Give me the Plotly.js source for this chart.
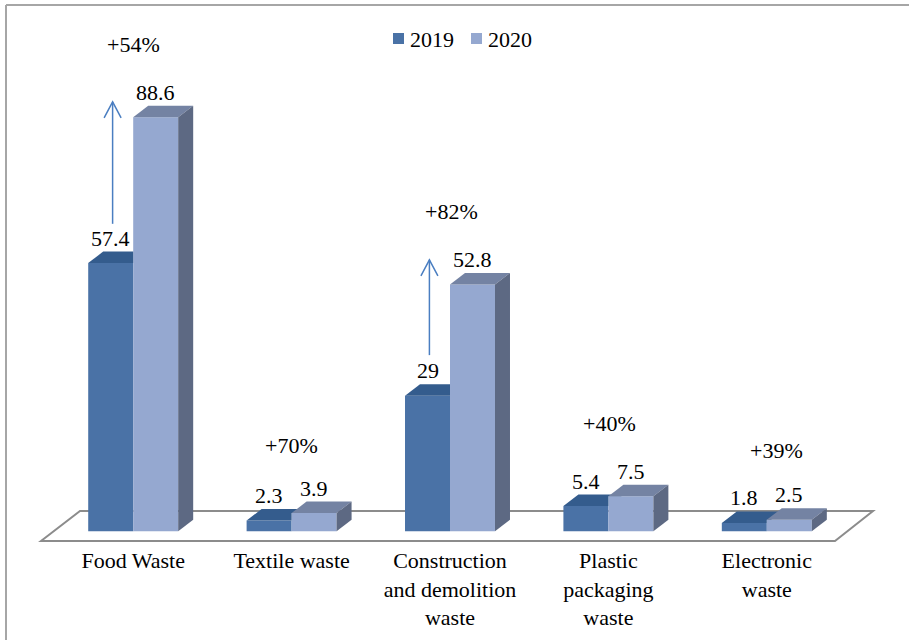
<!DOCTYPE html>
<html>
<head>
<meta charset="utf-8">
<script src="https://cdn.plot.ly/plotly-3.0.1.min.js"></script>
</head>
<body style="margin:0">
<div id="chart" style="width:909px;height:640px"></div>
<script>
// ---- data ----
const categories = ['Food Waste', 'Textile waste', 'Construction and demolition waste', 'Plastic packaging waste', 'Electronic waste'];
const tickLabels = ['Food Waste', 'Textile waste', 'Construction<br>and demolition<br>waste', 'Plastic<br>packaging<br>waste', 'Electronic<br>waste'];
const seriesNames = ['2019', '2020'];
const values2019 = [57.4, 2.3, 29, 5.4, 1.8];
const values2020 = [88.6, 3.9, 52.8, 7.5, 2.5];
const changeLabels = ['+54%', '+70%', '+82%', '+40%', '+39%'];

(function () {
  var SERIF = 'Times New Roman';
  var FSZ = 22;
  var COL19 = {front: '#4A72A6', top: '#345C8D'};
  var COL20 = {front: '#95A8D0', top: '#7483A3', side: '#5D6983'};
  var BARGAP = 0.432;
  var HALF = (1 - BARGAP) / 2;
  var DX = 0.0947;
  var DY = 2.46;
  var MARG = {l: 54, r: 63, t: 64, b: 90};
  var WIDTH = 909, HEIGHT = 640;
  var PW = WIDTH - MARG.l - MARG.r, PH = HEIGHT - MARG.t - MARG.b;
  function toPx(v) { return (v - MARG.l) / PW; }
  function toPy(v) { return (HEIGHT - MARG.b - v) / PH; }
  function txtFont() { return {family: SERIF, size: FSZ, color: '#000000'}; }

  var xIdx = categories.map(function (_, i) { return i; });

  var traces = [
    {type: 'bar', name: seriesNames[0], x: xIdx, y: values2019,
     marker: {color: COL19.front, line: {width: 0}}, hoverinfo: 'skip', showlegend: false},
    {type: 'bar', name: seriesNames[1], x: xIdx, y: values2020,
     marker: {color: COL20.front, line: {width: 0}}, hoverinfo: 'skip', showlegend: false}
  ];

  var shapes = [];
  shapes.push({type: 'line', xref: 'paper', yref: 'paper', x0: toPx(6), x1: toPx(909), y0: toPy(5), y1: toPy(5),
               line: {color: '#A6A6A6', width: 2}});
  shapes.push({type: 'line', xref: 'paper', yref: 'paper', x0: toPx(6), x1: toPx(6), y0: toPy(5), y1: toPy(640),
               line: {color: '#A6A6A6', width: 2}});
  shapes.push({type: 'path', xref: 'paper', yref: 'paper', layer: 'below',
    path: 'M' + toPx(41) + ',' + toPy(541) + ' L' + toPx(80) + ',' + toPy(511) + ' L' + toPx(873) + ',' + toPy(511) + ' L' + toPx(835) + ',' + toPy(541) + ' Z',
    fillcolor: '#FFFFFF', line: {color: '#8C8C8C', width: 2}});

  xIdx.forEach(function (i) {
    var a = i - HALF, m = i, b = i + HALF;
    var v1 = values2019[i], v2 = values2020[i];
    var p19;
    if (v1 + DY <= v2) {
      p19 = 'M' + a + ',' + v1 + ' L' + m + ',' + v1 + ' L' + m + ',' + (v1 + DY) + ' L' + (a + DX) + ',' + (v1 + DY) + ' Z';
    } else {
      p19 = 'M' + a + ',' + v1 + ' L' + m + ',' + v1 + ' L' + m + ',' + v2 + ' L' + (m + (v2 - v1) / DY * DX) + ',' + v2 +
            ' L' + (m + DX) + ',' + (v1 + DY) + ' L' + (a + DX) + ',' + (v1 + DY) + ' Z';
    }
    shapes.push({type: 'path', xref: 'x', yref: 'y', path: p19, fillcolor: COL19.top, line: {width: 0}});
    shapes.push({type: 'path', xref: 'x', yref: 'y',
      path: 'M' + m + ',' + v2 + ' L' + b + ',' + v2 + ' L' + (b + DX) + ',' + (v2 + DY) + ' L' + (m + DX) + ',' + (v2 + DY) + ' Z',
      fillcolor: COL20.top, line: {width: 0}});
    shapes.push({type: 'path', xref: 'x', yref: 'y',
      path: 'M' + b + ',0 L' + b + ',' + v2 + ' L' + (b + DX) + ',' + (v2 + DY) + ' L' + (b + DX) + ',' + DY + ' Z',
      fillcolor: COL20.side, line: {width: 0}});
  });

  var arrows = [{cat: 0, from: 65.8, to: 91.9}, {cat: 2, from: 37.7, to: 58.1}];
  var ARROW_COL = '#4A7EC1';
  arrows.forEach(function (ar) {
    var x = ar.cat - 0.13;
    shapes.push({type: 'line', xref: 'x', yref: 'y', x0: x, x1: x, y0: ar.from, y1: ar.to,
                 line: {color: ARROW_COL, width: 1.5}});
    shapes.push({type: 'path', xref: 'x', yref: 'y', xsizemode: 'pixel', ysizemode: 'pixel',
                 xanchor: x, yanchor: ar.to, path: 'M-8.5,-16 L0,0 L8.5,-16',
                 line: {color: ARROW_COL, width: 1.5}});
  });

  var legendSpec = [{sq: 393, tx: 408, col: COL19.front, name: seriesNames[0]},
                    {sq: 471, tx: 486, col: COL20.front, name: seriesNames[1]}];
  legendSpec.forEach(function (l) {
    shapes.push({type: 'rect', xref: 'paper', yref: 'paper', x0: toPx(l.sq), x1: toPx(l.sq + 11),
                 y0: toPy(44), y1: toPy(33), fillcolor: l.col, line: {width: 0}});
  });

  var annotations = [];
  xIdx.forEach(function (i) {
    annotations.push({xref: 'x', yref: 'y', x: i - HALF / 2, y: values2019[i] + DY, text: String(values2019[i]),
      showarrow: false, yanchor: 'bottom', yshift: -1, font: txtFont()});
    annotations.push({xref: 'x', yref: 'y', x: i + HALF / 2, y: values2020[i] + DY, text: String(values2020[i]),
      showarrow: false, yanchor: 'bottom', yshift: -1, font: txtFont()});
  });
  var changePos = [{dx: 0, y: 45}, {dx: 0, y: 445}, {dx: 0.01, y: 212}, {dx: 0.01, y: 423}, {dx: 0.06, y: 450}];
  changeLabels.forEach(function (t, i) {
    annotations.push({xref: 'x', yref: 'paper', x: i + changePos[i].dx, y: toPy(changePos[i].y), text: t,
      showarrow: false, yanchor: 'middle', font: txtFont()});
  });
  legendSpec.forEach(function (l) {
    annotations.push({xref: 'paper', yref: 'paper', x: toPx(l.tx), y: toPy(39), text: l.name, xanchor: 'left',
      yanchor: 'middle', showarrow: false, font: txtFont()});
  });

  var layout = {
    width: WIDTH, height: HEIGHT,
    margin: MARG,
    paper_bgcolor: '#FFFFFF', plot_bgcolor: 'rgba(0,0,0,0)',
    barmode: 'group', bargap: BARGAP, bargroupgap: 0,
    showlegend: false,
    xaxis: {range: [-0.5, 4.5], tickvals: xIdx, ticktext: tickLabels, showgrid: false, zeroline: false,
            showline: false, ticks: '', ticklabelstandoff: -5, tickfont: txtFont(), fixedrange: true},
    yaxis: {range: [-4, 100], showgrid: false, zeroline: false, showline: false, showticklabels: false,
            ticks: '', fixedrange: true},
    shapes: shapes,
    annotations: annotations
  };

  Plotly.newPlot('chart', traces, layout, {displayModeBar: false});
})();
</script>
</body>
</html>
